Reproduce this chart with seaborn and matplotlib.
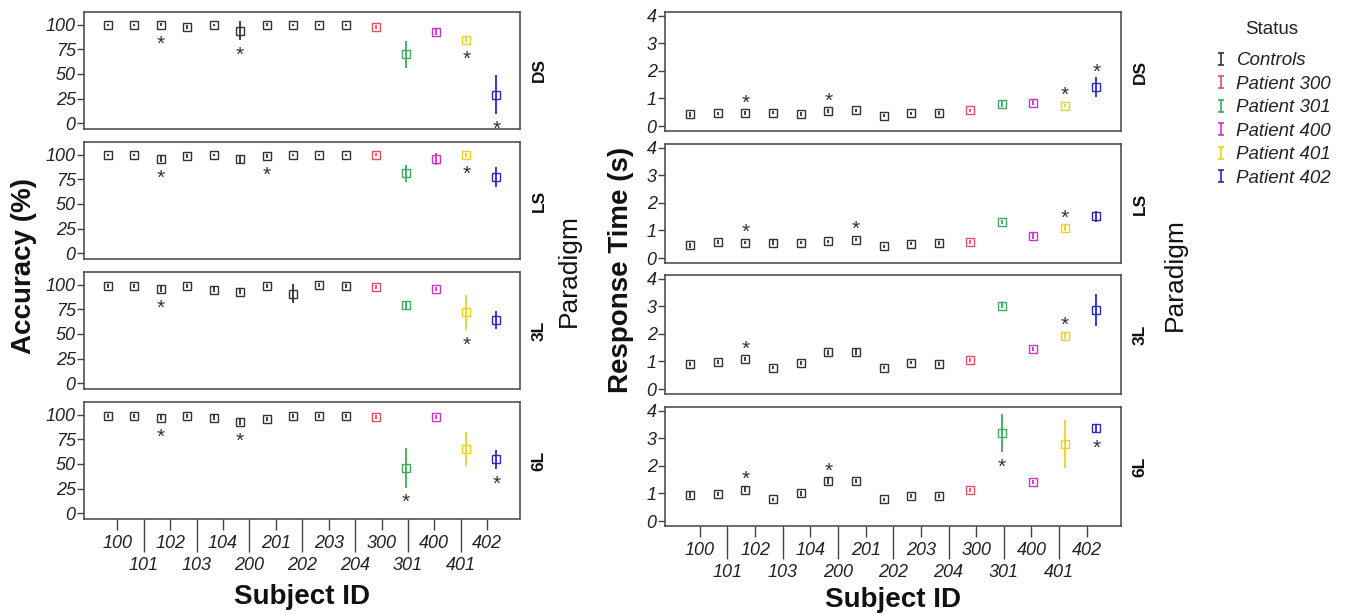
import numpy as np
import pandas as pd
import matplotlib
matplotlib.use("Agg")
import matplotlib.pyplot as plt
import seaborn as sns
from matplotlib.lines import Line2D
from matplotlib.path import Path

# ---------------- data ----------------
subjects = ["100", "101", "102", "103", "104", "200", "201", "202", "203", "204",
            "300", "301", "400", "401", "402"]
status = ["Controls"] * 10 + ["Patient 300", "Patient 301", "Patient 400",
                              "Patient 401", "Patient 402"]
status_levels = ["Controls", "Patient 300", "Patient 301", "Patient 400",
                 "Patient 401", "Patient 402"]
paradigms = ["DS", "LS", "3L", "6L"]

acc_DS = [100, 100, 100, 98, 100, 94, 100, 100, 100, 100, 98, 70, 93, 85, 29]
acc_DS_err = [1, 1, 1.5, 2, 1, 9.5, 1.5, 1, 1, 1, 2, 14, 3, 3, 20]
acc_LS = [100, 100, 96, 99, 100, 96, 99, 100, 100, 100, 100, 81, 96, 100, 77.5]
acc_LS_err = [1, 1, 3, 2, 1, 4, 2, 1, 1, 1, 1.5, 9, 6, 2, 10]
acc_3L = [98.6, 99, 96, 99, 95, 93, 99, 91, 100, 99, 98, 79, 96, 72, 64.5]
acc_3L_err = [2, 2, 3, 2, 2.5, 2.5, 2, 10, 2, 2, 2, 5, 2, 18, 9]
acc_6L = [98.6, 99, 97, 99, 97, 93, 96, 99, 99, 99, 97.6, 46, 98, 65, 54.6]
acc_6L_err = [2, 2, 2.5, 2, 2.5, 3, 2, 2, 2, 2, 2, 20, 2, 17, 10]

rt_DS = [0.42, 0.46, 0.46, 0.49, 0.44, 0.54, 0.57, 0.37, 0.46, 0.48, 0.57, 0.79, 0.85, 0.74, 1.42]
rt_DS_err = [0.08, 0.06, 0.07, 0.07, 0.08, 0.06, 0.06, 0.05, 0.06, 0.08, 0.06, 0.1, 0.08, 0.06, 0.36]
rt_LS = [0.46, 0.59, 0.56, 0.56, 0.56, 0.61, 0.67, 0.42, 0.52, 0.56, 0.58, 1.30, 0.80, 1.09, 1.51]
rt_LS_err = [0.08, 0.07, 0.06, 0.08, 0.06, 0.06, 0.07, 0.05, 0.05, 0.07, 0.07, 0.08, 0.1, 0.1, 0.2]
rt_3L = [0.90, 0.97, 1.08, 0.77, 0.95, 1.33, 1.34, 0.77, 0.95, 0.90, 1.05, 3.02, 1.46, 1.93, 2.87]
rt_3L_err = [0.08, 0.07, 0.07, 0.05, 0.07, 0.08, 0.1, 0.05, 0.05, 0.07, 0.07, 0.1, 0.07, 0.1, 0.58]
rt_6L = [0.94, 0.98, 1.14, 0.78, 1.00, 1.45, 1.44, 0.79, 0.92, 0.90, 1.11, 3.18, 1.42, 2.80, 3.36]
rt_6L_err = [0.1, 0.08, 0.08, 0.05, 0.08, 0.1, 0.07, 0.05, 0.07, 0.07, 0.07, 0.68, 0.07, 0.87, 0.17]

# significance asterisks: subject -> direction (+1 above, -1 below)
acc_stars = {"DS": {"102": -1, "200": -1, "401": -1, "402": -1},
             "LS": {"102": -1, "201": -1, "401": -1},
             "3L": {"102": -1, "401": -1},
             "6L": {"102": -1, "200": -1, "301": -1, "402": -1}}
rt_stars = {"DS": {"102": 1, "200": 1, "401": 1, "402": 1},
            "LS": {"102": 1, "201": 1, "401": 1},
            "3L": {"102": 1, "401": 1},
            "6L": {"102": 1, "200": 1, "301": -1, "402": -1}}

acc_vals = {"DS": (acc_DS, acc_DS_err), "LS": (acc_LS, acc_LS_err),
            "3L": (acc_3L, acc_3L_err), "6L": (acc_6L, acc_6L_err)}
rt_vals = {"DS": (rt_DS, rt_DS_err), "LS": (rt_LS, rt_LS_err),
           "3L": (rt_3L, rt_3L_err), "6L": (rt_6L, rt_6L_err)}

rows = []
for p in paradigms:
    for i, s in enumerate(subjects):
        rows.append(dict(subject=s, status=status[i], paradigm=p,
                         acc=acc_vals[p][0][i], acc_err=acc_vals[p][1][i],
                         rt=rt_vals[p][0][i], rt_err=rt_vals[p][1][i]))
df = pd.DataFrame(rows)

palette = {"Controls": "#333333", "Patient 300": "#e0505f", "Patient 301": "#3daa5c",
           "Patient 400": "#cc33cc", "Patient 401": "#f0d020", "Patient 402": "#2a2abf"}

# ---------------- style ----------------
sns.set_style("ticks")
plt.rcParams["font.family"] = ["Liberation Sans", "DejaVu Sans"]

W, H = 1348, 614
fig = plt.figure(figsize=(W / 100, H / 100), dpi=100)


def px_axes(x0, x1, top, height):
    return fig.add_axes([x0 / W, 1 - (top + height) / H, (x1 - x0) / W, height / H])


TEXT = "#222222"
SPINE = "#444444"


def draw_panel(ax, p, col, errcol, ylim, yticks, stars, last):
    sub = df[df.paradigm == p]
    sns.pointplot(data=sub, x="subject", y=col, hue="status", order=subjects,
                  hue_order=status_levels, palette=palette, markers="s",
                  linestyles="none", dodge=0.7, errorbar=None, markersize=6.3,
                  markeredgewidth=1.0, legend=False, ax=ax)
    ax.set_xlim(-1.26, 15.24)
    ax.set_ylim(*ylim)
    # dodged x-position of every subject, taken from the drawn points
    xpos = {}
    for line in ax.lines:
        line.set_markerfacecolor("none")
        line.set_zorder(3)
        for xv, yv in zip(line.get_xdata(), line.get_ydata()):
            if np.isfinite(yv):
                xpos[subjects[int(round(xv))]] = xv
    for _, r in sub.iterrows():
        ax.errorbar(xpos[r.subject], r[col], yerr=r[errcol], fmt="none",
                    ecolor=palette[r.status], elinewidth=1.3, capsize=0, zorder=2)
    fig.canvas.draw()
    for s, d in stars[p].items():
        r = sub[sub.subject == s].iloc[0]
        x = xpos[s]
        p0 = ax.transData.transform((x, r[col]))[1]
        p1 = ax.transData.transform((x, r[col] + d * r[errcol]))[1]
        reach = max(abs(p1 - p0), 5)
        off_px = d * (reach + 10) - 5
        ax.annotate("*", (x, r[col]), xytext=(0, off_px * 72 / 100),
                    textcoords="offset points", ha="center", va="center",
                    fontsize=15, color="#333333")
    ax.set_yticks(yticks)
    ax.set_yticklabels([str(t) for t in yticks], fontstyle="italic", fontsize=13,
                       color=TEXT)
    ax.tick_params(axis="y", length=5, width=1, pad=1, color=SPINE)
    for sp in ax.spines.values():
        sp.set_visible(True)
        sp.set_color(SPINE)
        sp.set_linewidth(1.1)
    ax.set_xlabel("")
    ax.set_ylabel("")
    idx = np.arange(len(subjects))
    if last:
        ax.set_xticks(idx[::2], [subjects[i] for i in idx[::2]])
        ax.set_xticks(idx[1::2], [subjects[i] for i in idx[1::2]], minor=True)
        ax.tick_params(axis="x", which="major", length=8, width=1, pad=3.5,
                       color=SPINE, labelsize=13)
        ax.tick_params(axis="x", which="minor", length=24, width=1, pad=3.5,
                       color=SPINE, labelsize=13)
        for t in ax.get_xticklabels(which="both"):
            t.set_fontstyle("italic")
            t.set_color(TEXT)
    else:
        ax.set_xticks([])
    ax.annotate(p, (1, 0.5), xycoords="axes fraction", xytext=(19, 0),
                textcoords="offset pixels", rotation=90, ha="center", va="center",
                fontsize=12.5, fontweight="bold", color="#111111")


left_tops = [12, 142, 272, 402]
right_tops = [12, 144, 275, 407]
for k, p in enumerate(paradigms):
    axl = px_axes(84, 520, left_tops[k], 117)
    draw_panel(axl, p, "acc", "acc_err", (-6, 113), [0, 25, 50, 75, 100],
               acc_stars, k == 3)
    axr = px_axes(665, 1121, right_tops[k], 119)
    draw_panel(axr, p, "rt", "rt_err", (-0.18, 4.13), [0, 1, 2, 3, 4],
               rt_stars, k == 3)

lab = dict(fontsize=20, fontweight="bold", color="#111111", ha="center", va="center")
fig.text(24 / W, 1 - 266 / H, "Accuracy (%)", rotation=90, **lab)
fig.text(621 / W, 1 - 270 / H, "Response Time (s)", rotation=90, **lab)
fig.text(302 / W, 1 - 597 / H, "Subject ID", **lab)
fig.text(893 / W, 1 - 600 / H, "Subject ID", **lab)
para = dict(fontsize=19, color="#111111", ha="center", va="center", rotation=90)
fig.text(569 / W, 1 - 271 / H, "Paradigm", **para)
fig.text(1175 / W, 1 - 275 / H, "Paradigm", **para)

# legend with I-beam error-bar glyphs
ibeam = Path([(-0.5, -1), (0.5, -1), (0, -1), (0, 1), (-0.5, 1), (0.5, 1)],
             [Path.MOVETO, Path.LINETO, Path.MOVETO, Path.LINETO, Path.MOVETO, Path.LINETO])
handles = [Line2D([], [], color=palette[s], marker=ibeam, linestyle="none",
                  markersize=8, markeredgewidth=1.2, markerfacecolor="none")
           for s in status_levels]
leg = fig.legend(handles, status_levels, loc="upper left",
                 bbox_to_anchor=(1214 / W, 1 - 52 / H), frameon=False,
                 prop={"size": 13.5, "style": "italic"},
                 labelspacing=0.34, handlelength=0.7, handletextpad=0.5,
                 borderpad=0, borderaxespad=0)
for t in leg.get_texts():
    t.set_color(TEXT)
fig.text(1272 / W, 1 - 30 / H, "Status", fontsize=13.5, color=TEXT,
         ha="center", va="center")

fig.savefig("out.png", dpi=100)
